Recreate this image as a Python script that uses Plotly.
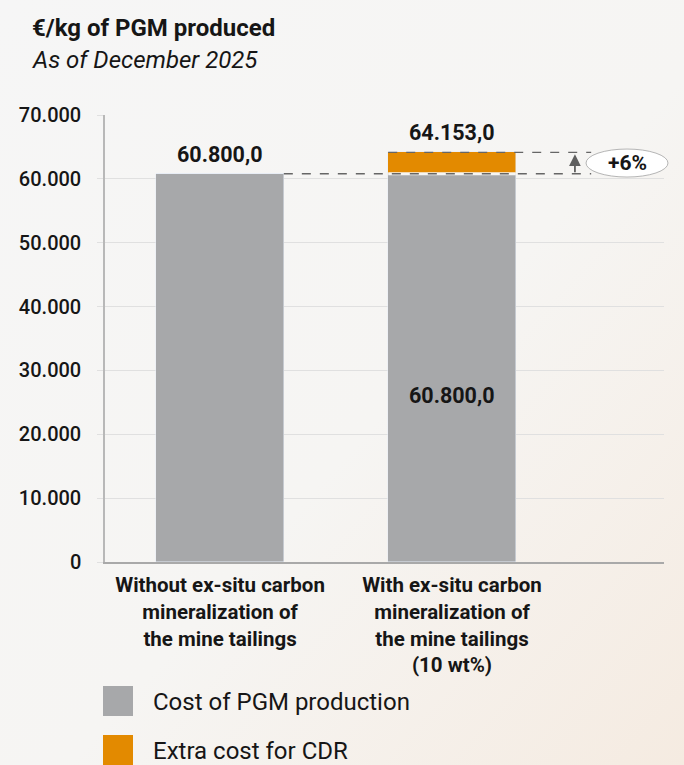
import base64
import plotly.graph_objects as go

# ---- data -------------------------------------------------------------
categories = [
    "Without ex-situ carbon<br>mineralization of<br>the mine tailings",
    "With ex-situ carbon<br>mineralization of<br>the mine tailings<br>(10 wt%)",
]
production_cost = [60800.0, 60800.0]
cdr_extra_cost = [0.0, 3353.0]
series_names = ["Cost of PGM production", "Extra cost for CDR"]
y_ticks = [0, 10000, 20000, 30000, 40000, 50000, 60000, 70000]
y_tick_labels = ["0", "10.000", "20.000", "30.000", "40.000", "50.000", "60.000", "70.000"]
increase_label = "+6%"

GREY = "#a7a8aa"
ORANGE = "#e38a00"
TEXT = "#161616"
FONT = "Roboto"

W, H = 684, 765
ML, MR, MT, MB = 105, 20, 115, 203
PW, PH = W - ML - MR, H - MT - MB


def fmt(v):
    s = f"{v:,.1f}"
    return s.replace(",", "X").replace(".", ",").replace("X", ".")


def px_x(px):
    return (px - ML) / PW


def px_y(py):
    return (H - MB - py) / PH


x = list(range(len(categories)))
totals = [a + b for a, b in zip(production_cost, cdr_extra_cost)]
bar_w = 0.55

fig = go.Figure()
fig.add_trace(go.Bar(x=x, y=production_cost, name=series_names[0], marker_color=GREY,
                     width=bar_w, showlegend=False, hoverinfo="skip"))
fig.add_trace(go.Bar(x=x, y=cdr_extra_cost, name=series_names[1], marker_color=ORANGE,
                     width=bar_w, showlegend=False, hoverinfo="skip"))

# background gradient
svg = (
    f'<svg xmlns="http://www.w3.org/2000/svg" width="{W}" height="{H}">'
    '<defs><linearGradient id="g" x1="0" y1="0" x2="1" y2="1">'
    '<stop offset="0" stop-color="#f6f6f6"/>'
    '<stop offset="0.55" stop-color="#f6f5f3"/>'
    '<stop offset="1" stop-color="#f5ebe1"/>'
    '</linearGradient></defs>'
    f'<rect width="{W}" height="{H}" fill="url(#g)"/></svg>'
)
src = "data:image/svg+xml;base64," + base64.b64encode(svg.encode()).decode()

annotations = []
shapes = []

label_font = dict(size=21.5, color=TEXT, weight="bold")

# value labels
annotations.append(dict(x=0, y=production_cost[0], text=fmt(production_cost[0]), showarrow=False,
                        yanchor="bottom", yshift=5, font=label_font))
annotations.append(dict(x=1, y=totals[1], text=fmt(totals[1]), showarrow=False,
                        yanchor="bottom", yshift=5, font=label_font))
annotations.append(dict(x=1, y=production_cost[1] * 0.43, text=fmt(production_cost[1]), showarrow=False,
                        font=label_font))

# separation between stacked segments
shapes.append(dict(type="line", x0=1 - bar_w / 2, x1=1 + bar_w / 2, y0=production_cost[1], y1=production_cost[1],
                   xref="x", yref="y", line=dict(color="#f6f5f3", width=3), layer="above"))

# dashed reference lines
x_end = 1.60
shapes.append(dict(type="line", x0=bar_w / 2, x1=x_end, y0=production_cost[0], y1=production_cost[0],
                   xref="x", yref="y", line=dict(color="#666666", width=1.3, dash="dash"), layer="above"))
shapes.append(dict(type="line", x0=1 - bar_w / 2, x1=x_end, y0=totals[1], y1=totals[1],
                   xref="x", yref="y", line=dict(color="#666666", width=1.3, dash="dash"), layer="above"))

# increase arrow
annotations.append(dict(x=1.53, y=totals[1] - 300, ax=1.53, ay=production_cost[0],
                        xref="x", yref="y", axref="x", ayref="y", text="", showarrow=True,
                        arrowhead=2, arrowsize=1.3, arrowwidth=1.8, arrowcolor="#5f5f5f"))

# percentage badge
mid = (production_cost[0] + totals[1]) / 2
shapes.append(dict(type="circle", xref="paper", yref="paper", xsizemode="pixel", ysizemode="pixel",
                   xanchor=px_x(627), yanchor=mid / 70000, x0=-41, x1=41, y0=-14, y1=14,
                   fillcolor="white", line=dict(color="#b5b5b5", width=1), layer="above"))
annotations.append(dict(xref="paper", yref="paper", x=px_x(627), y=mid / 70000, text=increase_label,
                        showarrow=False, xanchor="center", yanchor="middle",
                        font=dict(size=21, color=TEXT, weight="bold")))

# titles
annotations.append(dict(xref="paper", yref="paper", x=px_x(30), y=px_y(28), text="€/kg of PGM produced",
                        showarrow=False, xanchor="left", yanchor="middle",
                        font=dict(size=24, color=TEXT, weight="bold")))
annotations.append(dict(xref="paper", yref="paper", x=px_x(30), y=px_y(60), text="As of December 2025",
                        showarrow=False, xanchor="left", yanchor="middle",
                        font=dict(size=24, color=TEXT, style="italic")))

# legend
for i, (name, col) in enumerate(zip(series_names, [GREY, ORANGE])):
    top = 686 + i * 49
    shapes.append(dict(type="rect", xref="paper", yref="paper", x0=px_x(103), x1=px_x(133),
                       y0=px_y(top + 30), y1=px_y(top), fillcolor=col, line=dict(width=0)))
    annotations.append(dict(xref="paper", yref="paper", x=px_x(151), y=px_y(top + 16), text=name,
                            showarrow=False, xanchor="left", yanchor="middle",
                            font=dict(size=24, color=TEXT)))

fig.update_layout(
    width=W, height=H,
    margin=dict(l=ML, r=MR, t=MT, b=MB, pad=0),
    barmode="stack",
    bargap=0,
    paper_bgcolor="#f6f6f5",
    plot_bgcolor="rgba(0,0,0,0)",
    font=dict(family=FONT, color=TEXT),
    showlegend=False,
    annotations=annotations,
    shapes=shapes,
    images=[dict(source=src, xref="paper", yref="paper", x=-ML / PW, y=1 + MT / PH,
                 sizex=W / PW, sizey=H / PH, sizing="stretch", xanchor="left", yanchor="top",
                 layer="below")],
    xaxis=dict(
        range=[-0.496, 1.914], tickvals=x, ticktext=categories, showgrid=False,
        zeroline=False, showline=True, linecolor="#a9a9a9", linewidth=1.5,
        ticks="", ticklabelstandoff=4, tickfont=dict(size=20.5, color=TEXT, weight="bold"),
    ),
    yaxis=dict(
        range=[0, 70000], tickvals=y_ticks, ticktext=y_tick_labels,
        showgrid=True, gridcolor="#e0e0e0", gridwidth=1, zeroline=False,
        showline=True, linecolor="#b8b8b8", linewidth=1.5,
        ticks="outside", ticklen=6, tickcolor="#e0e0e0",
        ticklabelstandoff=12,
        tickfont=dict(size=20, color=TEXT, weight=500),
    ),
)

fig.write_html("out.html")
